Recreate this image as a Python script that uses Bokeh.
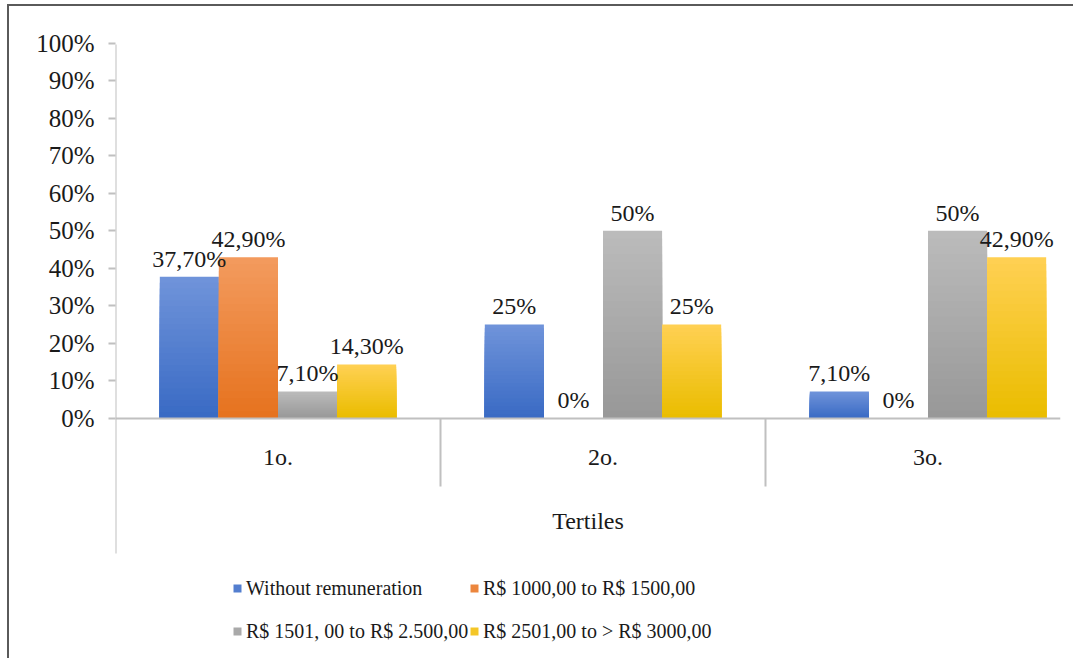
from bokeh.plotting import figure
from bokeh.models import Range1d, FixedTicker, LinearAxis, Legend, LegendItem, ColumnDataSource
from bokeh.core.properties import value
from bokeh.embed import file_html
from bokeh.resources import INLINE

# ---------------- data ----------------
categories = ["1o.", "2o.", "3o."]
series_names = [
    "Without remuneration",
    "R$ 1000,00 to R$ 1500,00",
    "R$ 1501, 00 to R$ 2.500,00",
    "R$ 2501,00 to > R$ 3000,00",
]
without_remuneration = [37.7, 25.0, 7.1]
r1000_to_1500 = [42.9, 0.0, 0.0]
r1501_to_2500 = [7.1, 50.0, 50.0]
r2501_to_3000 = [14.3, 25.0, 42.9]
series_values = [without_remuneration, r1000_to_1500, r1501_to_2500, r2501_to_3000]
y_ticks = [0, 10, 20, 30, 40, 50, 60, 70, 80, 90, 100]
y_tick_labels = ["0%", "10%", "20%", "30%", "40%", "50%", "60%", "70%", "80%", "90%", "100%"]
grid_ticks = [10, 20, 30, 40, 50, 70, 80, 100]
x_title = "Tertiles"

# ---------------- style ----------------
FONT = "Liberation Serif"
TXT = "#1a1a1a"
GRID = "#C0C0C0"
top_colors = ["#6F93DA", "#F39A5D", "#BBBBBB", "#FFD052"]
bottom_colors = ["#3A6BC4", "#E6731F", "#989898", "#EABD00"]
PX_PER_UNIT = 3.745  # vertical pixels per percentage point


def fmt(v):
    if float(v).is_integer():
        return f"{v:.0f}%"
    return f"{v:.2f}%".replace(".", ",")


def mix(c1, c2, t):
    a = [int(c1[i:i + 2], 16) for i in (1, 3, 5)]
    b = [int(c2[i:i + 2], 16) for i in (1, 3, 5)]
    return "#%02x%02x%02x" % tuple(round(a[i] + (b[i] - a[i]) * t) for i in range(3))


y_top = max(y_ticks)
p = figure(
    width=1066, height=654,
    x_range=Range1d(0, 2.9077), y_range=Range1d(-64.75, y_top),
    output_backend="svg", toolbar_location=None,
    min_border_left=106, min_border_right=15, min_border_top=37, min_border_bottom=0,
    x_axis_type=None, y_axis_type=None,
)
p.outline_line_color = None
p.background_fill_color = "white"
p.border_fill_color = "white"
p.styles = {
    "margin-left": "7px", "margin-top": "4px",
    "border-left": "2px solid #5a5a5a", "border-top": "2px solid #5a5a5a",
}

# y axis (ticks + labels; its vertical line is drawn by the x=0 tick below)
yax = LinearAxis(ticker=FixedTicker(ticks=y_ticks),
                 major_label_overrides={t: l for t, l in zip(y_ticks, y_tick_labels)})
yax.axis_line_color = None
yax.major_tick_line_color = GRID
yax.major_tick_line_width = 2
yax.major_tick_out = 7
yax.major_tick_in = 0
yax.minor_tick_line_color = None
yax.major_label_text_font = FONT
yax.major_label_text_font_size = "25px"
yax.major_label_text_color = TXT
yax.major_label_standoff = 14
p.add_layout(yax, "left")
p.ygrid.ticker = FixedTicker(ticks=grid_ticks)
p.ygrid.grid_line_color = GRID
p.ygrid.grid_line_width = 2

# category axis at y = 0
n = len(categories)
centers = [i + 0.5 for i in range(n)]
xax = LinearAxis(ticker=FixedTicker(ticks=centers),
                 major_label_overrides={c: l for c, l in zip(centers, categories)},
                 fixed_location=0)
xax.axis_line_color = GRID
xax.axis_line_width = 2
xax.major_tick_line_color = None
xax.minor_tick_line_color = None
xax.major_label_text_font = FONT
xax.major_label_text_font_size = "24px"
xax.major_label_text_color = TXT
xax.major_label_standoff = 20
xax.axis_label = x_title
xax.axis_label_text_font = FONT
xax.axis_label_text_font_size = "24px"
xax.axis_label_text_font_style = "normal"
xax.axis_label_text_color = TXT
xax.axis_label_standoff = 34
p.add_layout(xax, "below")

# category separators
sep_ticks = [float(i) for i in range(1, n)]
sep = LinearAxis(ticker=FixedTicker(ticks=sep_ticks),
                 major_label_overrides={t: "" for t in sep_ticks},
                 fixed_location=0)
sep.axis_line_color = None
sep.major_tick_line_color = GRID
sep.major_tick_line_width = 2
sep.major_tick_out = 68
sep.major_tick_in = 0
sep.minor_tick_line_color = None
p.add_layout(sep, "below")

# vertical value-axis line: from 100% down past the axis title
vline = LinearAxis(ticker=FixedTicker(ticks=[0.0]), major_label_overrides={0.0: ""},
                   fixed_location=0)
vline.axis_line_color = None
vline.major_tick_line_color = GRID
vline.major_tick_line_width = 2
vline.major_tick_in = round(y_top * PX_PER_UNIT)
vline.major_tick_out = 135
vline.minor_tick_line_color = None
p.add_layout(vline, "below")

# bars (stepped vertical gradient, light top -> dark bottom)
ns = len(series_values)
bw = 1 / 5.5
offsets = [(k - (ns - 1) / 2) * bw for k in range(ns)]
steps = 24
legend_renderers = []
for si, vals in enumerate(series_values):
    xs = [c + offsets[si] for c in centers]
    rep = None
    for k in range(steps):
        frac = 1 - k / steps
        col = mix(top_colors[si], bottom_colors[si], k / (steps - 1))
        src = ColumnDataSource(dict(x=xs, top=[v * frac for v in vals]))
        r = p.vbar(x="x", top="top", bottom=0, width=bw, source=src,
                   fill_color=col, line_color=None)
        if k == steps // 2:
            rep = r
    legend_renderers.append(rep)

# data labels
lx, ly, lt = [], [], []
for si, vals in enumerate(series_values):
    for ci, v in enumerate(vals):
        lx.append(centers[ci] + offsets[si])
        ly.append(v)
        lt.append(fmt(v))
p.text(x="x", y="y", text="t", source=ColumnDataSource(dict(x=lx, y=ly, t=lt)),
       text_align="center", text_baseline="alphabetic", y_offset=-18,
       text_font=value(FONT), text_font_size=value("24px"), text_color=TXT)


# legends (two columns of two rows) under the axis title
def make_legend(idx, loc):
    items = [LegendItem(label=series_names[i], renderers=[legend_renderers[i]]) for i in idx]
    lg = Legend(items=items, location=loc, orientation="vertical")
    lg.padding = 0
    lg.margin = 0
    lg.spacing = 19
    lg.glyph_width = 10
    lg.glyph_height = 10
    lg.label_height = 24
    lg.label_standoff = 4
    lg.label_text_font = FONT
    lg.label_text_font_size = "20px"
    lg.label_text_color = TXT
    lg.border_line_color = None
    lg.background_fill_alpha = 0
    return lg


p.add_layout(make_legend([0, 2], (117, 17)), "center")
p.add_layout(make_legend([1, 3], (354, 17)), "center")

open("out.html", "w").write(file_html(p, INLINE))
